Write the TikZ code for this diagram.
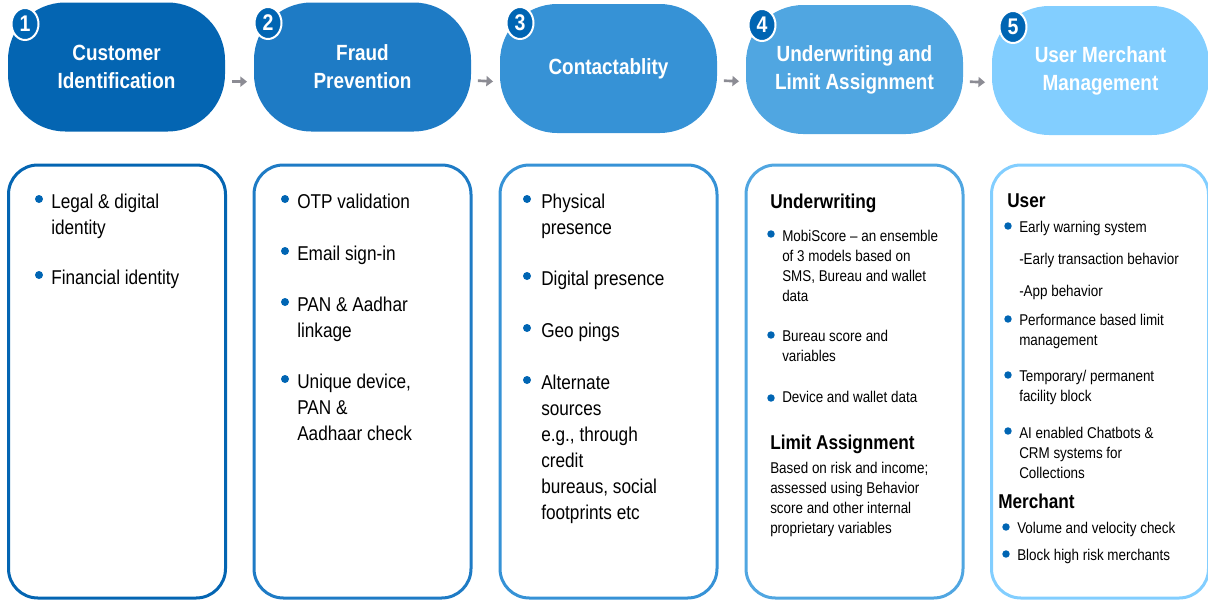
\documentclass[tikz,border=0pt]{standalone}
\usepackage{fontspec}
\setmainfont{Liberation Sans}[FakeStretch=0.86]
\usepackage{xcolor}
\usetikzlibrary{arrows.meta,positioning,shapes.geometric}
\definecolor{stepA}{RGB}{4,101,178}
\definecolor{stepB}{RGB}{30,123,197}
\definecolor{stepC}{RGB}{54,146,214}
\definecolor{stepD}{RGB}{80,166,225}
\definecolor{stepE}{RGB}{130,206,255}
\definecolor{dotblue}{RGB}{0,101,179}
\definecolor{arrgray}{RGB}{140,140,148}

\begin{document}
\begin{tikzpicture}[x=0.75pt, y=-0.75pt,
  pill/.style={rectangle, rounded corners=43pt, minimum width=162.75pt, minimum height=96.75pt, inner sep=2pt, text=white, align=center, font=\fontsize{16.5}{21}\selectfont\bfseries},
  card/.style={rectangle, draw, rounded corners=22pt, line width=2.25pt, minimum width=162.75pt, minimum height=324.75pt},
  num/.style={ellipse, fill=dotblue, draw=white, line width=1.5pt, minimum width=20.25pt, minimum height=24pt, inner sep=0pt, text=white, font=\fontsize{17}{17}\selectfont\bfseries},
  txt/.style={anchor=base west, align=left, inner sep=0pt, font=\fontsize{15}{19.5}\selectfont},
  sml/.style={anchor=base west, align=left, inner sep=0pt, font=\fontsize{11.7}{15}\selectfont},
  hdr/.style={anchor=base west, inner sep=0pt, font=\fontsize{15}{18}\selectfont\bfseries},
  arr/.style={-{Triangle[length=5pt,width=7.5pt]}, line width=2pt, draw=arrgray, shorten <=5pt, shorten >=5pt}
]
\useasboundingbox (0,0) rectangle (1208,600);
% steps
\node[pill, fill=stepA] (s1) at (116.5,67) {Customer\\Identification};
\node[pill, fill=stepB] (s2) at (362.5,67) {Fraud\\Prevention};
\node[pill, fill=stepC] (s3) at (608.5,68.5) {Contactablity};
\node[pill, fill=stepD] (s4) at (854.5,69.5) {Underwriting and\\Limit Assignment};
\node[pill, fill=stepE] (s5) at (1100.5,70.5) {User Merchant\\Management};
\node[num] (n1) at (25,24) {1};
\node[num] (n2) at (268,23) {2};
\node[num] (n3) at (520,23) {3};
\node[num] (n4) at (762,25) {4};
\node[num] (n5) at (1013,27) {5};
\draw[arr] ([yshift=-11pt]s1.east) -- ([yshift=-11pt]s2.west);
\draw[arr] ([yshift=-10pt]s2.east) -- ([yshift=-10pt]s3.west);
\draw[arr] ([yshift=-9pt]s3.east) -- ([yshift=-9pt]s4.west);
\draw[arr] ([yshift=-9pt]s4.east) -- ([yshift=-9pt]s5.west);
% cards
\node[card, draw=stepA] (b1) at (117,381.5) {};
\node[card, draw=stepB] (b2) at (362.5,381.5) {};
\node[card, draw=stepC] (b3) at (608.5,381.5) {};
\node[card, draw=stepD] (b4) at (854.5,381.5) {};
\node[card, draw=stepE] (b5) at (1100,381.5) {};
% card 1
\fill[dotblue] (39,199) circle (3pt);
\node[txt] (t1a) at (51,234) {Legal \& digital\\identity};
\fill[dotblue] (39,275) circle (3pt);
\node[txt] (t1b) at (51,284) {Financial identity};
% card 2
\fill[dotblue] (285,199) circle (3pt);
\node[txt] (t2a) at (297,208) {OTP validation};
\fill[dotblue] (285,251) circle (3pt);
\node[txt] (t2b) at (297,260) {Email sign-in};
\fill[dotblue] (285,302) circle (3pt);
\node[txt] (t2c) at (297,337) {PAN \& Aadhar\\linkage};
\fill[dotblue] (285,379) circle (3pt);
\node[txt] (t2d) at (297,440) {Unique device,\\PAN \&\\Aadhaar check};
% card 3
\fill[dotblue] (527,199) circle (3pt);
\node[txt] (t3a) at (541,234) {Physical\\presence};
\fill[dotblue] (527,276) circle (3pt);
\node[txt] (t3b) at (541,285) {Digital presence};
\fill[dotblue] (527,328) circle (3pt);
\node[txt] (t3c) at (541,337) {Geo pings};
\fill[dotblue] (527,380) circle (3pt);
\node[txt] (t3d) at (541,519) {Alternate\\sources\\e.g., through\\credit\\bureaus, social\\footprints etc};
% card 4
\node[hdr] (h4a) at (770,208) {Underwriting};
\fill[dotblue] (771,234) circle (2.8pt);
\node[sml] (t4a) at (782,301) {MobiScore -- an ensemble\\of 3 models based on\\SMS, Bureau and wallet\\data};
\fill[dotblue] (771,335) circle (2.8pt);
\node[sml] (t4b) at (782,361.5) {Bureau score and\\variables};
\fill[dotblue] (771,398) circle (2.8pt);
\node[sml] (t4c) at (782,402.5) {Device and wallet data};
\node[hdr] (h4b) at (770,449) {Limit Assignment};
\node[sml] (t4d) at (770,533.5) {Based on risk and income;\\assessed using Behavior\\score and other internal\\proprietary variables};
% card 5
\node[hdr] (h5a) at (1007,207) {User};
\fill[dotblue] (1008,226) circle (2.8pt);
\node[sml] (t5a) at (1019,232.5) {Early warning system};
\node[sml] (t5b) at (1019,264.5) {-Early transaction behavior};
\node[sml] (t5c) at (1019,296.5) {-App behavior};
\fill[dotblue] (1008,319) circle (2.8pt);
\node[sml] (t5d) at (1019,345) {Performance based limit\\management};
\fill[dotblue] (1008,375) circle (2.8pt);
\node[sml] (t5e) at (1019,401) {Temporary/ permanent\\facility block};
\fill[dotblue] (1008,431) circle (2.8pt);
\node[sml] (t5f) at (1019,478) {AI enabled Chatbots \&\\CRM systems for\\Collections};
\node[hdr] (h5b) at (998,508) {Merchant};
\fill[dotblue] (1006,527) circle (2.8pt);
\node[sml] (t5g) at (1017,533.5) {Volume and velocity check};
\fill[dotblue] (1006,554) circle (2.8pt);
\node[sml] (t5h) at (1017,560.5) {Block high risk merchants};
\end{tikzpicture}
\end{document}
